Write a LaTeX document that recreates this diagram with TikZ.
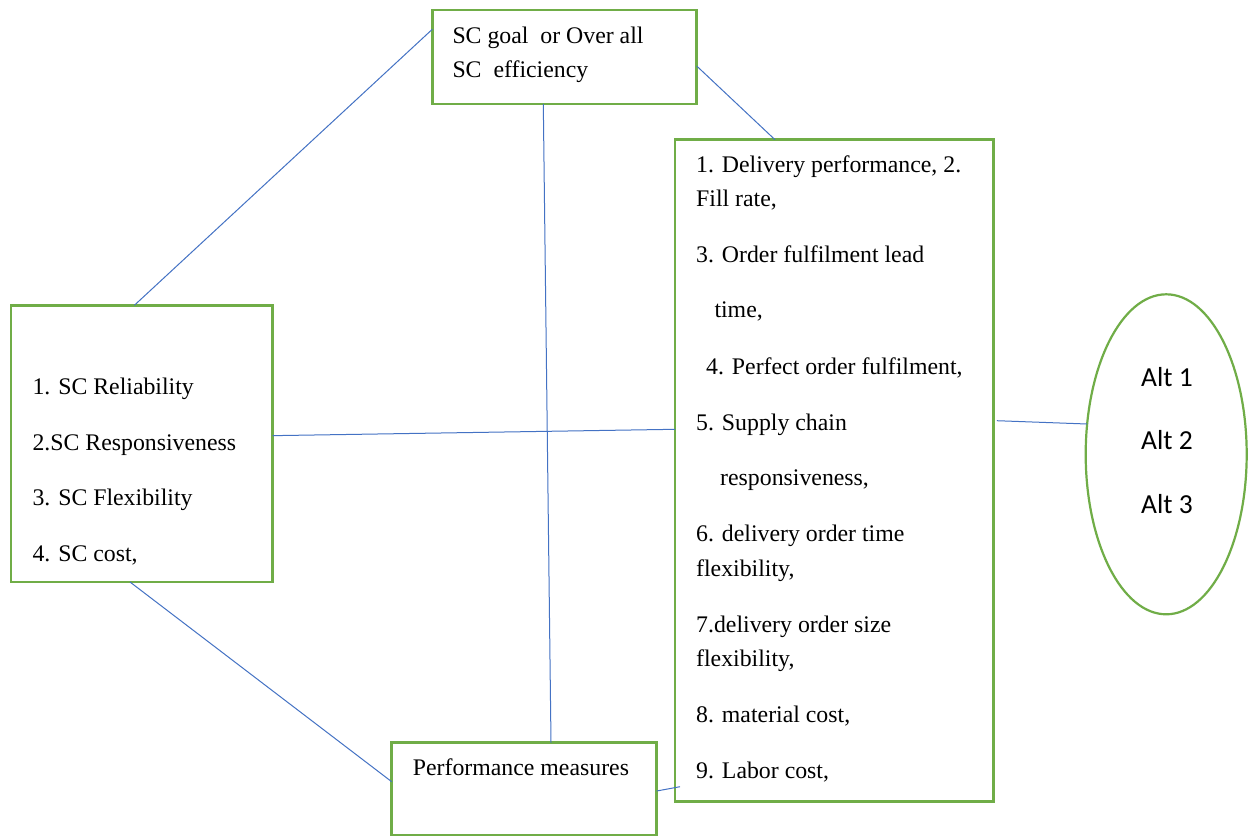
\documentclass[tikz,border=0pt]{standalone}
\usepackage{fontspec}
\setmainfont{Liberation Serif}
\newfontfamily\altfont{Carlito}
\usetikzlibrary{shapes.geometric}
\definecolor{boxgreen}{HTML}{70AD47}
\definecolor{linkblue}{HTML}{4472C4}
\begin{document}
\begin{tikzpicture}[x=1pt,y=-1pt,
  box/.style={draw=boxgreen,line width=2.6pt,rectangle,inner sep=0pt,outer sep=0pt},
  oval/.style={draw=boxgreen,line width=2.2pt,ellipse,inner sep=0pt,outer sep=0pt},
  link/.style={draw=linkblue,line width=1pt},
  txt/.style={anchor=base west,inner sep=0pt,font=\fontsize{23.8}{28}\selectfont},
  alt/.style={anchor=base,inner sep=0pt,font=\altfont\fontsize{27.5}{32}\selectfont}]
\useasboundingbox (0,0) rectangle (1256,836);
\fill[white] (0,0) rectangle (1256,836);

% boxes
\node[box,minimum width=264.4pt,minimum height=94pt] (top) at (564.5,57) {};
\node[box,minimum width=261.7pt,minimum height=276.7pt] (left) at (141.85,443.65) {};
\node[box,minimum width=318.3pt,minimum height=662pt] (right) at (834.15,470.7) {};
\node[box,minimum width=265pt,minimum height=92.3pt] (bot) at (524.2,788.85) {};
\node[oval,minimum width=161pt,minimum height=320pt] (ell) at (1166.2,454.3) {};

% connectors
\draw[link] ([yshift=-19.3pt]top.north west) -- ([xshift=-7.5pt]left.north);
\draw[link] ([xshift=-21.2pt]top.south) -- ([xshift=26.8pt]bot.north);
\draw[link] ([yshift=-56pt]top.north east) -- ([xshift=-59.15pt]right.north);
\draw[link] ([yshift=8pt]left.east) -- ([yshift=41.4pt]right.west);
\draw[link] ([xshift=-11.85pt]left.south) -- ([yshift=7.15pt]bot.west);
\draw[link] ([yshift=-2.15pt]bot.east) -- ([xshift=5pt,yshift=15pt]right.south west);
\draw[link] ([xshift=3.5pt,yshift=50pt]right.east) -- ([xshift=1.5pt,yshift=30.3pt]ell.west);

% top box text
\node[txt] (t1) at (452.3,43.3) {SC goal\ \ or Over all};
\node[txt] (t2) at (452.3,77.3) {SC\ \ efficiency};

% left box text
\node[txt] (l1) at (32.3,394) {1. SC Reliability};
\node[txt] (l2) at (32.3,450) {2.SC Responsiveness};
\node[txt] (l3) at (32.3,505.7) {3. SC Flexibility};
\node[txt] (l4) at (32.3,561.7) {4. SC cost,};

% right box text
\node[txt] (r1) at (696,172.3) {1. Delivery performance, 2.};
\node[txt] (r2) at (696,206) {Fill rate,};
\node[txt] (r3) at (696,262.3) {3. Order fulfilment lead};
\node[txt] (r4) at (714.3,317.7) {time,};
\node[txt] (r5) at (706,374) {4. Perfect order fulfilment,};
\node[txt] (r6) at (696,430) {5. Supply chain};
\node[txt] (r7) at (720,485) {responsiveness,};
\node[txt] (r8) at (696,541) {6. delivery order time};
\node[txt] (r9) at (696,576.7) {flexibility,};
\node[txt] (r10) at (696,632.3) {7.delivery order size};
\node[txt] (r11) at (696,666.7) {flexibility,};
\node[txt] (r12) at (696,722) {8. material cost,};
\node[txt] (r13) at (696,778.3) {9. Labor cost,};

% bottom box text
\node[txt] (p1) at (412.7,775) {Performance measures};

% alternatives
\node[alt] (a1) at (1167,386) {Alt 1};
\node[alt] (a2) at (1167,449.3) {Alt 2};
\node[alt] (a3) at (1167,513.3) {Alt 3};
\end{tikzpicture}
\end{document}
